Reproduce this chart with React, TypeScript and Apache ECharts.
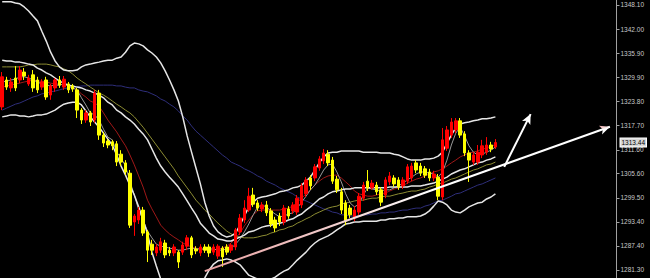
import React, { useEffect, useRef } from "react";
import * as echarts from "echarts";

// [open, close, low, high]
const candles: [number, number, number, number][] = [
  [1322.4, 1330.0, 1321.6, 1331.2], [1329.2, 1327.4, 1326.7, 1330.0], [1327.2, 1328.7, 1326.2, 1329.7],
  [1329.7, 1327.2, 1326.4, 1332.7], [1329.2, 1331.7, 1328.4, 1332.7], [1331.2, 1330.2, 1329.2, 1332.2],
  [1328.2, 1329.7, 1327.7, 1330.5], [1330.5, 1327.2, 1326.2, 1331.7], [1329.2, 1326.7, 1325.9, 1330.0],
  [1327.4, 1328.7, 1326.7, 1329.4], [1329.2, 1324.9, 1324.2, 1330.0], [1325.4, 1327.7, 1324.2, 1328.2],
  [1327.2, 1329.2, 1326.2, 1329.7], [1329.2, 1327.9, 1327.2, 1330.2], [1327.4, 1329.4, 1326.7, 1330.2],
  [1328.2, 1326.7, 1325.9, 1328.7], [1327.7, 1326.9, 1326.2, 1328.2],
  [1326.7, 1321.6, 1319.6, 1327.2], [1321.6, 1319.1, 1318.1, 1322.1], [1319.1, 1320.9, 1318.4, 1321.6],
  [1320.9, 1318.6, 1317.6, 1321.4], [1319.1, 1325.9, 1318.4, 1326.7], [1325.9, 1315.3, 1314.1, 1326.7],
  [1315.3, 1313.3, 1312.3, 1316.1], [1313.8, 1312.8, 1312.0, 1314.3], [1313.6, 1312.6, 1311.5, 1314.1],
  [1313.1, 1308.5, 1307.5, 1313.8], [1310.5, 1308.5, 1307.5, 1311.5], [1308.3, 1306.0, 1305.2, 1309.0],
  [1305.7, 1292.6, 1291.9, 1306.5], [1293.4, 1294.9, 1289.9, 1295.4], [1293.9, 1296.4, 1292.9, 1297.2],
  [1296.4, 1290.6, 1289.9, 1297.2],
  [1290.9, 1286.3, 1283.3, 1291.4], [1287.8, 1286.3, 1285.1, 1288.9], [1285.6, 1287.1, 1284.8, 1287.8],
  [1286.3, 1288.4, 1285.6, 1289.4], [1288.1, 1285.1, 1284.3, 1288.9], [1286.3, 1285.6, 1284.8, 1287.1],
  [1285.6, 1287.1, 1284.8, 1287.8], [1285.8, 1283.3, 1281.8, 1286.3], [1285.8, 1287.6, 1285.1, 1288.4],
  [1287.3, 1289.4, 1286.3, 1290.1], [1289.4, 1285.1, 1284.3, 1289.9], [1286.6, 1286.1, 1285.3, 1287.3],
  [1285.6, 1287.1, 1284.8, 1287.8], [1287.1, 1286.3, 1285.6, 1287.8], [1287.1, 1285.6, 1284.6, 1287.8],
  [1285.8, 1287.1, 1285.1, 1287.8], [1284.8, 1287.3, 1284.1, 1287.8], [1286.8, 1284.6, 1282.1, 1287.3],
  [1287.1, 1285.8, 1285.1, 1287.8], [1286.3, 1287.6, 1285.6, 1288.1],
  [1287.1, 1291.4, 1286.3, 1291.9], [1290.9, 1294.4, 1290.1, 1295.4], [1293.9, 1296.9, 1293.1, 1298.9],
  [1296.4, 1299.9, 1295.9, 1302.0], [1300.2, 1297.9, 1297.2, 1302.0], [1298.2, 1296.9, 1296.2, 1298.9],
  [1296.7, 1297.7, 1295.9, 1298.4], [1297.7, 1295.7, 1294.9, 1298.7], [1296.2, 1292.9, 1292.1, 1296.9],
  [1293.9, 1291.9, 1290.9, 1294.7], [1294.9, 1293.4, 1292.4, 1295.7], [1293.4, 1296.9, 1292.6, 1297.7],
  [1296.7, 1294.9, 1294.2, 1297.4], [1296.2, 1297.7, 1295.4, 1298.4], [1295.9, 1299.4, 1295.2, 1300.2],
  [1297.7, 1302.5, 1296.9, 1303.2], [1300.5, 1304.0, 1299.7, 1304.7], [1304.5, 1302.5, 1301.5, 1305.2],
  [1304.5, 1307.3, 1303.7, 1308.0], [1307.0, 1309.3, 1306.3, 1310.0], [1308.8, 1310.8, 1308.0, 1311.8],
  [1310.5, 1308.3, 1307.5, 1311.5], [1309.0, 1303.7, 1303.0, 1309.8], [1304.2, 1301.5, 1300.7, 1305.0],
  [1301.0, 1296.4, 1295.4, 1302.0], [1298.2, 1293.6, 1292.6, 1298.9], [1296.9, 1295.2, 1294.4, 1297.7],
  [1294.4, 1296.4, 1293.6, 1297.4], [1295.9, 1299.9, 1295.2, 1300.7], [1299.4, 1302.7, 1298.7, 1303.5],
  [1303.7, 1302.0, 1301.2, 1306.5], [1302.0, 1303.2, 1301.5, 1304.0], [1302.7, 1301.0, 1300.2, 1303.5],
  [1301.5, 1298.4, 1297.4, 1302.2], [1300.2, 1304.0, 1299.4, 1304.7], [1303.5, 1305.0, 1302.7, 1306.0],
  [1304.5, 1303.0, 1302.2, 1305.2], [1304.0, 1302.2, 1301.5, 1304.7], [1302.5, 1304.0, 1301.7, 1304.7],
  [1303.7, 1307.3, 1303.0, 1308.0], [1304.5, 1307.5, 1303.7, 1308.3], [1308.3, 1306.5, 1305.7, 1309.0],
  [1307.5, 1305.7, 1305.0, 1308.3], [1306.8, 1305.2, 1304.5, 1307.5], [1306.0, 1304.5, 1303.7, 1306.8],
  [1304.5, 1305.5, 1303.7, 1306.3], [1304.7, 1299.9, 1298.9, 1305.5], [1299.7, 1314.1, 1298.9, 1317.1],
  [1312.0, 1316.6, 1311.3, 1317.6], [1315.3, 1318.6, 1314.6, 1319.6], [1316.6, 1318.9, 1315.8, 1319.6],
  [1318.9, 1315.3, 1314.6, 1319.6], [1315.6, 1310.8, 1310.0, 1316.3], [1310.8, 1309.0, 1303.5, 1311.5],
  [1308.5, 1310.3, 1307.8, 1311.0], [1308.5, 1311.0, 1307.8, 1312.8], [1310.3, 1312.6, 1309.5, 1314.1],
  [1311.0, 1312.8, 1310.3, 1314.8], [1312.8, 1311.8, 1311.0, 1313.6], [1312.3, 1313.44, 1311.8, 1314.3],
];

const bbUpper = [
  1348.9, 1348.9, 1348.9, 1348.6, 1348.4, 1347.6, 1346.6, 1345.3, 1344.1, 1341.5,
  1339.0, 1336.2, 1334.0, 1332.5, 1331.7, 1331.5, 1331.5, 1331.7, 1332.5, 1333.0,
  1333.2, 1333.5, 1333.7, 1334.0, 1334.2, 1334.2, 1334.7, 1335.0, 1336.2, 1337.8,
  1338.5, 1338.3, 1337.8, 1336.8, 1336.0, 1335.0, 1333.5, 1331.5, 1329.2, 1326.7,
  1323.9, 1319.9, 1315.1, 1311.0, 1307.0, 1303.0, 1298.4, 1294.9, 1292.4, 1290.9,
  1290.1, 1289.6, 1289.9, 1290.6, 1292.6, 1294.9, 1297.2, 1298.4, 1299.4, 1299.7,
  1299.9, 1300.2, 1300.5, 1301.0, 1301.2, 1301.5, 1302.0, 1302.2, 1302.7, 1303.7,
  1304.7, 1306.5, 1308.3, 1309.8, 1310.8, 1311.0, 1311.0, 1311.3, 1311.3, 1311.3,
  1311.3, 1311.3, 1311.0, 1311.0, 1311.0, 1311.0, 1310.8, 1310.8, 1310.8, 1310.5,
  1310.3, 1309.8, 1309.3, 1309.0, 1309.0, 1309.0, 1309.3, 1309.3, 1309.5, 1310.0,
  1311.0, 1313.3, 1315.3, 1317.1, 1318.1, 1318.4, 1318.6, 1318.9, 1319.1, 1319.4,
  1319.4, 1319.6, 1319.9,
];

const bbMid = [
  1334.2, 1334.0, 1334.0, 1333.7, 1333.7, 1333.5, 1333.2, 1333.0, 1332.2, 1331.7,
  1331.0, 1330.5, 1329.7, 1328.9, 1328.4, 1327.9, 1327.7, 1327.4, 1327.2, 1326.7,
  1326.4, 1325.9, 1325.4, 1324.7, 1323.6, 1322.9, 1321.6, 1320.9, 1319.9, 1319.1,
  1318.1, 1316.8, 1315.6, 1314.1, 1311.8, 1309.5, 1307.5, 1306.0, 1304.7, 1303.5,
  1302.2, 1300.5, 1298.7, 1296.9, 1295.2, 1293.1, 1291.9, 1290.6, 1289.9, 1289.1,
  1288.9, 1288.6, 1288.6, 1289.1, 1289.6, 1290.1, 1290.9, 1291.1, 1291.6, 1292.1,
  1292.4, 1292.6, 1292.9, 1293.1, 1293.4, 1293.9, 1294.2, 1294.9, 1295.4, 1296.4,
  1297.2, 1298.2, 1299.2, 1299.7, 1300.5, 1301.0, 1301.2, 1301.5, 1301.7, 1301.7,
  1302.0, 1302.0, 1302.0, 1302.0, 1302.0, 1302.0, 1302.0, 1302.0, 1302.2, 1302.2,
  1302.2, 1302.2, 1302.2, 1302.5, 1302.5, 1302.5, 1302.7, 1303.0, 1303.2, 1303.7,
  1304.2, 1304.7, 1305.5, 1306.0, 1306.5, 1306.8, 1307.3, 1307.8, 1308.3, 1308.5,
  1309.0, 1309.3, 1309.8,
];

const bbLower = [
  1319.9, 1320.1, 1320.4, 1320.4, 1320.1, 1320.1, 1319.9, 1320.1, 1320.4, 1320.4,
  1320.6, 1321.1, 1321.6, 1322.4, 1323.1, 1323.4, 1323.6, 1323.6, 1322.9, 1321.4,
  1319.9, 1318.6, 1317.3, 1315.8, 1314.3, 1312.8, 1310.3, 1307.5, 1305.2, 1302.7,
  1300.2, 1297.2, 1293.9, 1290.4, 1285.8, 1282.3, 1279.0, 1276.5, 1275.0, 1274.5,
  1274.0, 1274.0, 1274.5, 1275.2, 1276.2, 1277.8, 1279.3, 1281.3, 1282.8, 1283.6,
  1283.8, 1284.1, 1283.8, 1283.3, 1282.6, 1281.3, 1280.0, 1279.5, 1279.0, 1278.8,
  1278.8, 1279.0, 1279.5, 1280.3, 1281.0, 1281.5, 1282.6, 1283.8, 1284.8, 1285.8,
  1287.1, 1288.1, 1288.9, 1289.4, 1289.9, 1290.6, 1291.4, 1292.1, 1292.9, 1293.1,
  1293.4, 1293.4, 1293.6, 1293.6, 1293.6, 1293.6, 1293.9, 1293.9, 1294.2, 1294.2,
  1294.4, 1294.4, 1294.7, 1294.7, 1294.7, 1294.9, 1295.4, 1296.2, 1297.4, 1298.7,
  1298.4, 1297.7, 1296.4, 1295.9, 1295.7, 1296.4, 1297.2, 1297.7, 1298.2, 1298.4,
  1299.2, 1299.7, 1300.5,
];

const ma5 = [
  1328.7, 1328.9, 1329.2, 1329.4, 1330.0, 1330.0, 1329.7, 1329.2, 1328.7, 1328.2,
  1327.9, 1327.7, 1327.9, 1327.9, 1328.2, 1327.7, 1327.2, 1326.7, 1324.7, 1322.9,
  1320.9, 1320.4, 1319.1, 1316.8, 1314.8, 1314.1, 1311.0, 1309.5, 1307.5, 1303.7,
  1300.2, 1296.4, 1293.9, 1291.1, 1289.4, 1287.8, 1287.3, 1287.1, 1286.8, 1286.6,
  1286.3, 1286.3, 1286.6, 1286.8, 1286.6, 1286.6, 1286.6, 1286.6, 1286.6, 1286.3,
  1286.3, 1286.6, 1286.8, 1287.8, 1289.1, 1290.9, 1292.9, 1295.2, 1297.2, 1297.7,
  1297.2, 1296.2, 1295.4, 1294.7, 1294.9, 1295.4, 1295.7, 1296.9, 1298.4, 1299.9,
  1301.5, 1302.7, 1304.5, 1306.5, 1307.8, 1308.0, 1306.0, 1303.5, 1300.5, 1298.2,
  1297.2, 1297.9, 1300.2, 1302.0, 1301.7, 1301.5, 1301.2, 1301.5, 1301.5, 1302.0,
  1302.5, 1303.2, 1304.0, 1304.7, 1305.5, 1306.0, 1306.0, 1305.7, 1305.5, 1304.7,
  1306.0, 1309.0, 1312.8, 1315.8, 1317.3, 1315.1, 1312.6, 1311.0, 1310.3, 1310.5,
  1311.0, 1311.5, 1312.3,
];

const ma10 = [
  1327.4, 1327.7, 1327.9, 1328.2, 1328.4, 1328.7, 1328.9, 1329.2, 1328.9, 1328.9,
  1328.7, 1328.4, 1328.2, 1328.2, 1327.9, 1327.9, 1327.2, 1326.7, 1325.7, 1324.9,
  1323.9, 1323.4, 1322.6, 1320.9, 1319.1, 1317.6, 1316.1, 1314.3, 1312.6, 1310.3,
  1307.8, 1305.0, 1302.2, 1298.9, 1296.7, 1294.7, 1292.6, 1291.4, 1290.4, 1289.6,
  1288.9, 1288.1, 1287.6, 1287.1, 1286.8, 1286.6, 1286.3, 1286.3, 1286.3, 1286.6,
  1286.8, 1287.3, 1288.1, 1289.4, 1290.6, 1292.4, 1293.9, 1295.2, 1296.2, 1296.4,
  1296.4, 1296.4, 1296.4, 1296.4, 1296.7, 1296.9, 1297.4, 1298.4, 1299.4, 1300.5,
  1301.5, 1302.7, 1303.7, 1304.5, 1305.0, 1305.2, 1305.2, 1304.5, 1303.5, 1302.5,
  1301.2, 1300.5, 1300.2, 1299.9, 1299.9, 1300.2, 1300.5, 1300.7, 1301.2, 1301.7,
  1302.0, 1302.5, 1303.2, 1303.7, 1304.2, 1304.5, 1305.0, 1305.5, 1306.0, 1306.3,
  1306.8, 1307.5, 1308.3, 1309.0, 1309.8, 1310.3, 1310.8, 1311.0, 1311.3, 1311.8,
  1312.0, 1312.6, 1312.8,
];

const ma30 = [
  1332.5, 1332.5, 1332.5, 1332.5, 1332.5, 1332.7, 1333.0, 1333.0, 1333.2, 1333.2,
  1333.2, 1333.0, 1332.7, 1332.5, 1332.0, 1331.5, 1330.7, 1329.7, 1328.9, 1328.2,
  1327.4, 1326.7, 1325.9, 1325.4, 1324.7, 1323.9, 1323.1, 1322.4, 1321.6, 1320.9,
  1319.9, 1318.6, 1317.3, 1315.8, 1314.3, 1312.8, 1311.3, 1309.8, 1308.3, 1306.8,
  1305.0, 1303.5, 1302.0, 1300.5, 1298.9, 1297.7, 1296.4, 1295.4, 1294.2, 1293.1,
  1292.1, 1291.1, 1290.4, 1289.9, 1289.6, 1289.4, 1289.4, 1289.4, 1289.6, 1289.9,
  1290.1, 1290.6, 1290.9, 1291.4, 1291.6, 1292.1, 1292.4, 1293.1, 1293.6, 1294.2,
  1294.7, 1295.4, 1295.9, 1296.4, 1296.9, 1297.2, 1297.4, 1297.9, 1298.2, 1298.4,
  1298.7, 1298.9, 1298.9, 1299.2, 1299.4, 1299.4, 1299.7, 1299.9, 1299.9, 1300.2,
  1300.5, 1300.7, 1301.0, 1301.2, 1301.2, 1301.5, 1301.7, 1302.2, 1302.5, 1303.0,
  1303.2, 1303.7, 1304.2, 1304.5, 1305.0, 1305.5, 1306.0, 1306.5, 1306.8, 1307.3,
  1307.8, 1308.0, 1308.5,
];

const ma60 = [
  1321.6, 1322.1, 1322.6, 1323.1, 1323.4, 1323.9, 1324.4, 1324.9, 1325.2, 1325.7,
  1325.9, 1326.2, 1326.4, 1326.7, 1327.0, 1327.2, 1327.4, 1327.4, 1327.7, 1327.7,
  1327.9, 1327.9, 1327.9, 1327.9, 1327.9, 1327.9, 1327.7, 1327.7, 1327.4, 1327.2,
  1327.2, 1326.7, 1326.4, 1326.2, 1325.7, 1325.2, 1324.4, 1323.9, 1323.1, 1322.4,
  1321.4, 1320.1, 1319.1, 1317.6, 1316.3, 1315.3, 1314.3, 1313.3, 1312.3, 1311.3,
  1310.3, 1309.5, 1308.5, 1308.0, 1307.5, 1306.8, 1306.3, 1305.7, 1305.0, 1304.5,
  1303.7, 1303.2, 1302.7, 1302.0, 1301.5, 1301.0, 1300.5, 1299.7, 1299.2, 1298.7,
  1298.2, 1297.7, 1297.2, 1296.7, 1296.4, 1295.9, 1295.7, 1295.2, 1295.2, 1294.9,
  1294.9, 1294.9, 1295.2, 1295.2, 1295.4, 1295.4, 1295.7, 1295.7, 1295.9, 1295.9,
  1296.2, 1296.4, 1296.4, 1296.7, 1296.9, 1296.9, 1297.4, 1297.7, 1298.2, 1298.7,
  1298.9, 1299.4, 1299.9, 1300.5, 1300.7, 1301.2, 1301.7, 1302.2, 1302.7, 1303.0,
  1303.5, 1304.0, 1304.5,
];

const priceTicks = [1281.3, 1287.4, 1293.4, 1299.5, 1305.6, 1311.6, 1317.7, 1323.8, 1329.9, 1335.9, 1342.0, 1348.1];
const lastPrice = 1313.44;
const slotCount = 140; // candle slots incl. empty space on the right
const yRange = [1279.28, 1349.36];
// trend lines: [slot index, price]
const trendMain: [number, number][] = [[46, 1281.0], [138, 1317.4]];
const trendShort: [number, number][] = [[114, 1307.3], [120, 1320.6]];

const categories = Array.from({ length: slotCount }, (_, i) => String(i));

function line(name: string, data: number[], color: string, width: number) {
  return {
    type: "line",
    name,
    data,
    symbol: "none",
    silent: true,
    lineStyle: { color, width },
    itemStyle: { color },
    z: 2,
  };
}

export default function App() {
  const ref = useRef<HTMLDivElement>(null);
  useEffect(() => {
    if (!ref.current) return;
    const chart = echarts.init(ref.current, undefined, { renderer: "svg" });
    const trendGradient = new echarts.graphic.LinearGradient(0, 0, 1, 0, [
      { offset: 0, color: "#e8a0a0" },
      { offset: 0.3, color: "#f2cccc" },
      { offset: 0.55, color: "#ffffff" },
      { offset: 1, color: "#ffffff" },
    ]);
    chart.setOption({
      animation: false,
      backgroundColor: "#000000",
      grid: { left: 0, right: 33, top: 0, bottom: 0, containLabel: false },
      xAxis: {
        type: "category",
        data: categories,
        boundaryGap: true,
        show: false,
      },
      yAxis: {
        type: "value",
        position: "right",
        min: yRange[0],
        max: yRange[1],
        splitLine: { show: false },
        axisLine: { show: true, lineStyle: { color: "#a0a0a0", width: 1 } },
        axisTick: { show: true, length: 3, customValues: priceTicks, lineStyle: { color: "#a0a0a0" } },
        axisLabel: {
          customValues: [...priceTicks, lastPrice],
          formatter: (v: number) =>
            Math.abs(v - lastPrice) < 1e-6 ? `{cur|${v.toFixed(2)}}` : v.toFixed(2),
          color: "#c8c8c8",
          fontSize: 6.5,
          fontFamily: "Liberation Sans",
          margin: 4,
          rich: {
            cur: {
              color: "#000000",
              backgroundColor: "#d8d8d8",
              borderColor: "#ffffff",
              borderWidth: 1,
              padding: [1, 1, 0, 1],
              fontSize: 6.5,
              fontFamily: "Liberation Sans",
            },
          },
        },
      },
      series: [
        line("MA60", ma60, "#2e2e7a", 1),
        line("MA30", ma30, "#8c8c32", 1),
        line("MA10", ma10, "#a01818", 1),
        line("MA5", ma5, "#9a9a9a", 1),
        line("BB Upper", bbUpper, "#e6e6e6", 1.5),
        line("BB Mid", bbMid, "#e6e6e6", 1.5),
        line("BB Lower", bbLower, "#e6e6e6", 1.5),
        {
          type: "candlestick",
          data: candles,
          barWidth: 3,
          z: 3,
          silent: true,
          itemStyle: {
            color: "#ff0000",
            color0: "#ffff00",
            borderColor: "#ff0000",
            borderColor0: "#ffff00",
            borderWidth: 1,
          },
          markLine: {
            silent: true,
            symbol: ["none", "arrow"],
            symbolSize: [7, 10],
            label: { show: false },
            lineStyle: { color: "#ffffff", width: 2, type: "solid" },
            data: [
              [
                { coord: trendMain[0], lineStyle: { color: trendGradient, width: 2, type: "solid" } },
                { coord: trendMain[1] },
              ],
              [
                { coord: trendShort[0], lineStyle: { color: "#ffffff", width: 2, type: "solid" } },
                { coord: trendShort[1] },
              ],
            ],
          },
        },
      ],
    });
    return () => chart.dispose();
  }, []);
  return (
    <div
      ref={ref}
      style={{ position: "fixed", left: 0, top: 0, width: 650, height: 278, background: "#000" }}
    />
  );
}
